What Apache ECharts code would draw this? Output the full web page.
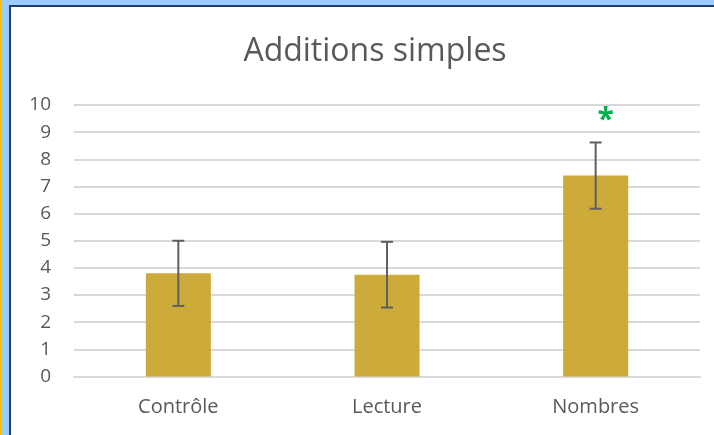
<!DOCTYPE html>
<html>
<head>
<meta charset="utf-8">
<script src="https://cdn.jsdelivr.net/npm/echarts@6/dist/echarts.min.js"></script>
<style>
  html, body { margin: 0; padding: 0; }
  body { width: 714px; height: 435px; overflow: hidden; position: relative; background: #99ccff; }
  #strip { position: absolute; left: 0; top: 0; width: 2px; height: 435px; background: #ffc000; }
  #frame { position: absolute; left: 9px; top: 5px; width: 720px; height: 440px; background: #fff;
    border-left: 2px solid #1f3b73; border-top: 2px solid #1f3b73; }
  #main { position: absolute; left: 0; top: 0; width: 714px; height: 435px; }
</style>
</head>
<body>
<div id="strip"></div>
<div id="frame"></div>
<div id="main"></div>
<script>
// données
var categories = ['Contrôle', 'Lecture', 'Nombres'];
var moyennes = [3.8, 3.75, 7.4];
var erreurs = [1.2, 1.21, 1.22];
var yTicks = [0, 10, 1]; // min, max, pas

var textColor = '#595959';

// barres d'erreur : [index, bas, haut]
var errData = [];
for (var i = 0; i < categories.length; i++) {
  errData.push([i, moyennes[i] - erreurs[i], moyennes[i] + erreurs[i]]);
}

function renderErr(params, api) {
  var x = api.value(0);
  var lo = api.coord([x, api.value(1)]);
  var hi = api.coord([x, api.value(2)]);
  var half = 6;
  var style = {stroke: '#5f5f5f', lineWidth: 2};
  return {
    type: 'group',
    children: [
      {type: 'line', shape: {x1: hi[0], y1: hi[1], x2: lo[0], y2: lo[1]}, style: style},
      {type: 'line', shape: {x1: hi[0] - half, y1: hi[1], x2: hi[0] + half, y2: hi[1]}, style: style},
      {type: 'line', shape: {x1: lo[0] - half, y1: lo[1], x2: lo[0] + half, y2: lo[1]}, style: style}
    ]
  };
}

var myChart = echarts.init(document.getElementById('main'));
var option = {
  animation: false,
  textStyle: {fontFamily: 'Open Sans'},
  title: {
    text: 'Additions simples',
    left: 370,
    top: 31,
    textAlign: 'center',
    textStyle: {fontFamily: 'Open Sans', fontWeight: 'normal', fontSize: 32, color: textColor}
  },
  grid: {left: 74, right: 14, top: 105, bottom: 58.5},
  xAxis: {
    type: 'category',
    data: categories,
    axisLine: {lineStyle: {color: '#d9d9d9', width: 2}},
    axisTick: {show: false},
    axisLabel: {color: textColor, fontSize: 20, margin: 21}
  },
  yAxis: {
    type: 'value',
    min: yTicks[0],
    max: yTicks[1],
    interval: yTicks[2],
    axisLine: {show: false},
    axisTick: {show: false},
    axisLabel: {color: textColor, fontSize: 19, margin: 23},
    splitLine: {lineStyle: {color: '#d9d9d9', width: 2}}
  },
  series: [{
    type: 'bar',
    data: moyennes,
    barWidth: 65,
    itemStyle: {color: '#ccab3a'},
    markPoint: {
      symbol: 'circle',
      symbolSize: 0,
      data: [{
        coord: ['Nombres', 9.42],
        label: {show: true, formatter: '*', color: '#00b050', fontSize: 30, fontWeight: 'bold', offset: [10, 0]}
      }]
    }
  }, {
    type: 'custom',
    data: errData,
    renderItem: renderErr,
    encode: {x: 0, y: [1, 2]},
    z: 3
  }]
};
myChart.setOption(option);
</script>
</body>
</html>
